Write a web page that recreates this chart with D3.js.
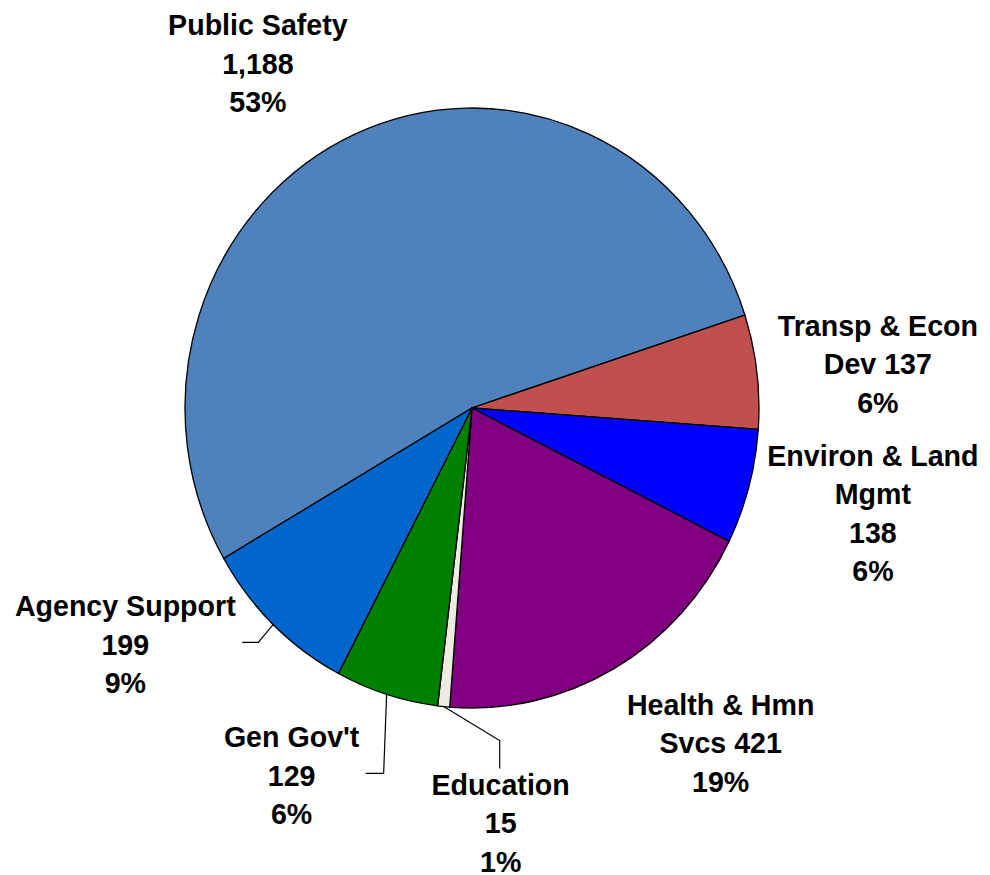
<!DOCTYPE html>
<head>
  <meta charset="utf-8">
  <script src="https://d3js.org/d3.v7.min.js"></script>
  <style>
    body { margin:0; background:#fff; font-family: "Liberation Sans", Arial, sans-serif; }
    .lbl { font-size: 28.6px; font-weight: bold; fill: #000; }
  </style>
</head>
<body>
  <script>
    // data
    var categories = ["Public Safety", "Transp & Econ Dev", "Environ & Land Mgmt", "Health & Hmn Svcs", "Education", "Gen Gov't", "Agency Support"];
    var values = [1188, 137, 138, 421, 15, 129, 199];
    var colors = ["#4F81BD", "#C0504D", "#0000FF", "#800080", "#EEECE1", "#008000", "#0066CC"];
    // how each label wraps; value goes on the last name line when joinValue is true
    var nameLines = [["Public Safety"], ["Transp & Econ", "Dev"], ["Environ & Land", "Mgmt"], ["Health & Hmn", "Svcs"], ["Education"], ["Gen Gov't"], ["Agency Support"]];
    var joinValue = [false, true, false, true, false, false, false];

    var width = 990, height = 875;
    var cx = 472, cy = 408, rx = 287, ry = 300;
    var lineH = 38.5;

    // label placement relative to the slice's outer edge midpoint
    var labelOff = [[-97, -99], [121, -36], [124, -21], [107, 46], [57, 88], [-95, 53], [-148, -8]];
    // leader lines: elbow and end, relative to the edge midpoint
    var leaders = [null, null, null, null, [[56, 34], [56, 62]], [[-3, 79], [-21, 79]], [[-15, 18], [-31, 18]]];

    var svg = d3.select("body").append("svg")
      .attr("width", width)
      .attr("height", height);

    var total = d3.sum(values);
    var rows = categories.map(function(c, i) { return { name: c, value: values[i], i: i }; });

    var start = -120.1 * Math.PI / 180;
    var pie = d3.pie().sort(null).value(function(d) { return d.value; })
      .startAngle(start).endAngle(start + 2 * Math.PI);
    var arc = d3.arc().innerRadius(0).outerRadius(rx);
    var arcs = pie(rows);

    var g = svg.append("g")
      .attr("transform", "translate(" + cx + "," + cy + ") scale(1," + (ry / rx) + ")");

    g.selectAll("path")
      .data(arcs)
      .enter()
      .append("path")
      .attr("d", arc)
      .style("fill", function(d) { return colors[d.data.i]; })
      .style("stroke", "#000")
      .style("stroke-width", 1.3)
      .attr("vector-effect", "non-scaling-stroke");

    function edge(d) {
      var a = (d.startAngle + d.endAngle) / 2;
      return [cx + rx * Math.sin(a), cy - ry * Math.cos(a)];
    }

    var fmt = d3.format(",");

    arcs.forEach(function(d) {
      var i = d.data.i;
      var e = edge(d);
      var lines = nameLines[i].slice();
      if (joinValue[i]) lines[lines.length - 1] += " " + fmt(d.data.value);
      else lines.push(fmt(d.data.value));
      lines.push(Math.round(d.data.value / total * 100) + "%");

      var lx = e[0] + labelOff[i][0], ly = e[1] + labelOff[i][1];
      var t = svg.append("text")
        .attr("class", "lbl")
        .attr("text-anchor", "middle");
      lines.forEach(function(s, k) {
        t.append("tspan").attr("x", lx).attr("y", ly + k * lineH).text(s);
      });

      if (leaders[i]) {
        var pts = [e].concat(leaders[i].map(function(p) { return [e[0] + p[0], e[1] + p[1]]; }));
        svg.append("path")
          .attr("d", d3.line()(pts))
          .style("fill", "none")
          .style("stroke", "#000")
          .style("stroke-width", 1.2);
      }
    });
  </script>
</body>
